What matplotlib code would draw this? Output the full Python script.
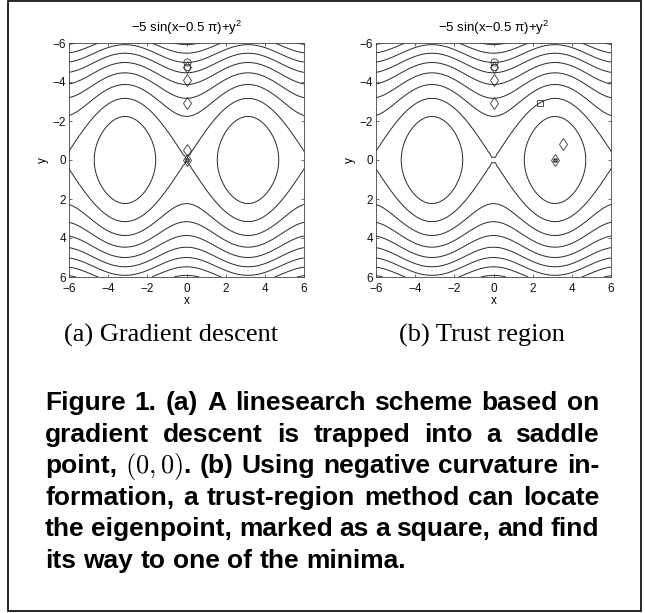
import numpy as np
import matplotlib
matplotlib.use("Agg")
import matplotlib.pyplot as plt
from matplotlib.patches import Rectangle

# --- data -----------------------------------------------------------------
LEVELS = [0, 5, 10, 15, 20, 25, 30, 35, 40]
XTICKS = [-6, -4, -2, 0, 2, 4, 6]
YTICKS = [-6, -4, -2, 0, 2, 4, 6]

# gradient descent iterates (start circled, iterates as diamonds)
GD_X = [0.0, 0.0, 0.0, 0.0, 0.0, 0.0]
GD_Y = [-5.05, -4.75, -4.1, -2.9, -0.5, 0.0]

# trust-region iterates
TR_X = [0.0, 0.0, 0.0, 0.0, 3.55, 3.14]
TR_Y = [-5.05, -4.75, -4.1, -2.9, -0.8, 0.0]
EIGEN_X = [2.38]
EIGEN_Y = [-2.9]

TITLE = "\u22125 sin(x\u22120.5 \u03c0)+y$\\mathregular{^2}$"
SUBCAPTIONS = ["(a) Gradient descent", "(b) Trust region"]
CAPTION_LINES = [
    "Figure 1. (a) A linesearch scheme based on",
    "gradient descent is trapped into a saddle",
    "point, $(0,0)$. (b) Using negative curvature in-",
    "formation, a trust-region method can locate",
    "the eigenpoint, marked as a square, and find",
    "its way to one of the minima.",
]

# --- layout (pixels) --------------------------------------------------------
W, H = 645, 613
CAP_SIZE = 19
LINE_C = "#2a2a2a"

plt.rcParams["mathtext.fontset"] = "cm"
plt.rcParams["font.family"] = ["Liberation Sans", "DejaVu Sans"]


def fx(px):
    return px / W


def fy(py):
    return 1 - py / H


def surface(n):
    g = np.linspace(-6, 6, n)
    X, Y = np.meshgrid(g, g)
    return X, Y, -5 * np.sin(X - 0.5 * np.pi) + Y ** 2


def draw_panel(ax, n, px, py, eig=None):
    X, Y, Z = surface(n)
    ax.contour(X, Y, Z, levels=LEVELS, colors=LINE_C, linewidths=0.7)
    ax.plot(px[:1], py[:1], "o", ms=5.2, mfc="none", mec="#333", mew=0.6)
    ax.plot(px[1:2], py[1:2], "o", ms=4.4, mfc="none", mec="#333", mew=0.6)
    ax.plot(px[1:], py[1:], "d", ms=6.2, mfc="none", mec="#333", mew=0.6)
    ax.plot(px[-1:], py[-1:], "o", ms=3.0, color="#333", mew=0.4)
    ax.plot(px[-1:], py[-1:], "+", ms=3.0, color="#888", mew=0.5)
    if eig is not None:
        ax.plot(eig[0], eig[1], "s", ms=4.2, mfc="none", mec="#333", mew=0.6)
    ax.set_xlim(-6, 6)
    ax.set_ylim(6, -6)
    ax.set_xticks(XTICKS)
    ax.set_yticks(YTICKS)
    ax.set_xticklabels([str(t).replace("-", "\u2212") for t in XTICKS])
    ax.set_yticklabels([str(t).replace("-", "\u2212") for t in YTICKS])
    ax.tick_params(direction="in", length=2.5, width=0.5, labelsize=8.5,
                   top=True, right=True, colors="#333")
    ax.tick_params(axis="x", pad=4.5)
    ax.tick_params(axis="y", pad=2)
    ax.tick_params(labelcolor="#111")
    for s in ax.spines.values():
        s.set_edgecolor("#444")
        s.set_linewidth(0.6)
    ax.set_xlabel("x", fontsize=8.5, labelpad=0)
    ax.set_ylabel("y", fontsize=8.5, labelpad=3)
    ax.set_title(TITLE, fontsize=9.5, pad=8)


fig = plt.figure(figsize=(W / 100, H / 100), dpi=100)
fig.patch.set_facecolor("white")

ax1 = fig.add_axes([fx(69), fy(277), 235 / W, 234 / H])
draw_panel(ax1, 61, GD_X, GD_Y)
ax2 = fig.add_axes([fx(376), fy(277), 235 / W, 234 / H])
draw_panel(ax2, 60, TR_X, TR_Y, eig=(EIGEN_X, EIGEN_Y))

for cx, txt in zip([171, 482], SUBCAPTIONS):
    fig.text(fx(cx), fy(342), txt, family="Liberation Serif",
             fontsize=CAP_SIZE, ha="center", va="baseline")

# justified bold caption
renderer = fig.canvas.get_renderer()
LEFT, RIGHT = 45, 599
BASE0, STEP = 410, 31.6


def make_piece(text, y, math):
    if math:
        return fig.text(0, fy(y), f"${text}$", fontsize=CAP_SIZE,
                        va="baseline")
    return fig.text(0, fy(y), text, fontsize=CAP_SIZE, fontweight="bold",
                    va="baseline")


probe_a = fig.text(0, 0, "a a", fontsize=CAP_SIZE, fontweight="bold")
probe_b = fig.text(0, 0, "aa", fontsize=CAP_SIZE, fontweight="bold")
space_w = (probe_a.get_window_extent(renderer).width
           - probe_b.get_window_extent(renderer).width)
probe_a.remove()
probe_b.remove()

for i, line in enumerate(CAPTION_LINES):
    y = BASE0 + i * STEP
    words = []
    for w in line.split(" "):
        parts = w.split("$")
        pieces = []
        for k, p in enumerate(parts):
            if p:
                t = make_piece(p, y, k % 2 == 1)
                pieces.append((t, t.get_window_extent(renderer).width))
        words.append(pieces)
    total = sum(wd for pcs in words for _, wd in pcs)
    last = i == len(CAPTION_LINES) - 1
    gap = space_w if last else (RIGHT - LEFT - total) / (len(words) - 1)
    x = LEFT
    for pcs in words:
        for t, wd in pcs:
            t.set_x(fx(x))
            x += wd
        x += gap

fig.add_artist(Rectangle((fx(7.5), fy(611)), (640.5 - 7.5) / W, 610 / H,
                         transform=fig.transFigure, fill=False,
                         edgecolor="black", linewidth=1.2))

fig.savefig("out.png", dpi=100, facecolor="white")
